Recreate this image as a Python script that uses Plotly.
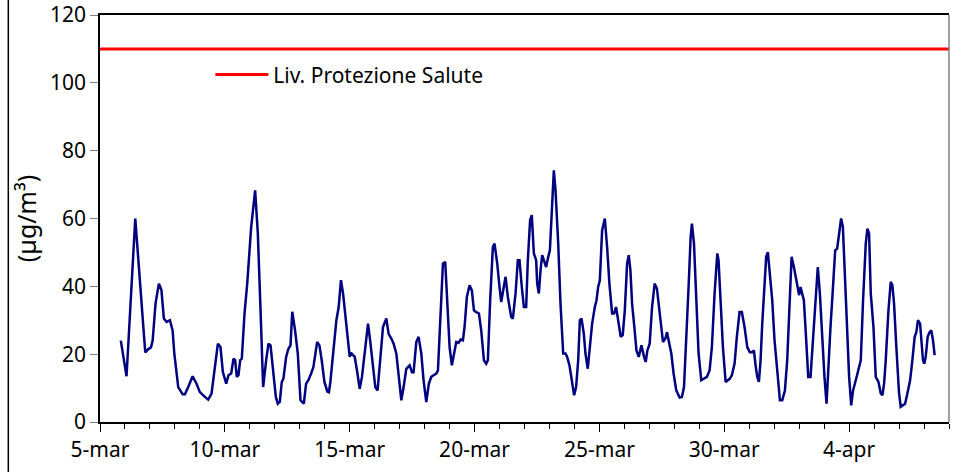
import pandas as pd
import plotly.graph_objects as go

# hours since 5-mar 00:00 and concentration (µg/m³)
HOURS = [
    20, 25.5, 33.9, 37.5, 40.5, 43.5, 46.5, 49, 50.6, 53.4, 56.6, 59, 61.4, 64, 67.2, 69.8,
    71.4, 75.2, 79.4, 81.6, 84.8, 89, 92.8, 96, 100.8, 104, 107.2, 110.4, 113.3, 115.8,
    118.1, 121.3, 123.5, 126.1, 128.3, 129.9, 131.5, 133.1, 134.7, 136.3, 138.9, 141.5,
    145.3, 149.1, 151.7, 154.3, 156.8, 159.7, 161.9, 163.9, 166.4, 169, 170.9, 172.8,
    174.7, 176.3, 178.9, 181.1, 183.1, 184.8, 187.5, 190.1, 192.7, 195.9, 198.1, 200.3,
    202.9, 205.1, 208.7, 210.9, 213.1, 215.7, 218.5, 220, 221.4, 224, 227.2, 229.4, 231.6,
    233.6, 235.8, 238, 240, 241.2, 244.8, 247, 249.6, 251.8, 255, 257.6, 259.8, 262.4,
    264.6, 266.8, 269.4, 272, 275.2, 277.4, 280, 282.2, 284.8, 287, 289.6, 291.8, 294.4,
    297.6, 299.8, 301.4, 304, 306.2, 308.8, 311, 313.6, 316.1, 318.4, 320.6, 323.2, 324.8,
    327, 329.6, 331.8, 334.4, 336, 338.2, 340.2, 342.4, 344.6, 346.6, 348.8, 350.4, 352.6,
    355.2, 357.4, 359.4, 361.6, 364.2, 366.4, 369, 371.2, 372.8, 375, 377.6, 379.2, 381.8,
    384, 385.6, 387.8, 389.8, 392, 395.2, 396.8, 399.4, 401.6, 403.2, 405.4, 407.4, 409.6,
    411.2, 413.4, 415, 417, 419.2, 420.2, 421.8, 423.4, 425, 426.6, 428.8, 430.8, 432.4,
    434, 436.2, 437.8, 440.4, 442.6, 445.2, 447.4, 449, 451.2, 453.8, 455.7, 457.6, 459.6,
    461.2, 462.8, 465, 466.6, 468.8, 470.8, 473, 475.6, 477.2, 478.8, 480.4, 482.6, 485.2,
    487.4, 489.6, 492.2, 494.1, 496, 498.6, 500.5, 502.4, 504.4, 506.6, 508.2, 509.8, 511.4,
    513.6, 515.6, 517.8, 520.4, 522.9, 524.5, 526.1, 528.3, 530.6, 533.1, 535.3, 537.3,
    539.5, 541.1, 543.4, 545, 546.5, 549.1, 551.3, 553.9, 557.1, 559.3, 561.3, 563.5, 565.7,
    567.7, 568.9, 570.9, 573.1, 575.3, 577.9, 580.5, 583.3, 585.9, 588.1, 590.7, 593.3,
    594.5, 596.5, 598.7, 601.3, 603.5, 605.4, 607.3, 609.9, 612.1, 614.7, 616.9, 619.5,
    622.1, 624.5, 626.9, 628.5, 630.1, 631.7, 633.3, 634.9, 636.5, 638.7, 640.3, 641.9,
    643.5, 646.1, 648.3, 650.9, 653.5, 655.7, 658.3, 660.5, 663.1, 664.7, 666.9, 668.8,
    670.7, 672, 673.3, 674.9, 676.5, 678.4, 680.7, 682.9, 685.1, 687.7, 689.9, 691.9, 694.1,
    696.3, 698.3, 699.9, 702.1, 704.3, 706.6, 708.5, 710.1, 712.3, 714, 715.9, 718.1, 720,
    722, 723.8, 726.4, 729, 731.2, 733.4, 736, 737.6, 739.2, 740.8, 743.4, 745.6, 748.2,
    750.4, 752, 753.6, 755.2, 757.8, 760, 761.6, 763.2, 765.4, 768, 769.6, 771.2, 773.8,
    776, 778.6, 780.8, 783, 784.6, 786.2, 788.2, 789.8, 791, 792.3, 793.6, 795.5, 797.4,
    799, 800.6, 802.2,
]
VALUES = [
    24, 13.5, 60, 45, 32, 20.5, 21.5, 22, 24, 35, 40.8, 39, 30.5, 29.5, 30, 27,
    20.2, 10.3, 8.2, 8.2, 10.3, 13.5, 11.3, 8.8, 7.4, 6.6, 8.4, 16.7, 23.1, 22.1,
    14.7, 11.3, 13.8, 14.3, 18.7, 18.2, 13.3, 13.8, 18.2, 18.7, 32, 40.8,
    57.5, 68.3, 55.6, 32.9, 10.3, 18.2, 23.1, 22.6, 14.3, 7.4, 5.4, 5.9,
    11.8, 12.8, 19.2, 21.6, 22.6, 32.5, 27, 20.2, 6.4, 5.4, 11.3, 12.3,
    14.3, 16.2, 23.6, 22.6, 18.2, 11.8, 9, 8.8, 11.8, 19.2, 30, 33.9, 41.8,
    37.9, 31, 24.1, 19.2, 20.4, 19.2, 15.2, 9.8, 13.3, 21.6, 29, 23.6, 16.2,
    10.3, 9.3, 18.2, 28, 30.5, 26, 24.6, 23.1, 20.2, 14.3, 6.4, 10.3, 15.7,
    16.7, 14.7, 14.7, 23.6, 25.1, 20.2, 12.3, 5.9, 11.3, 13.3, 13.8, 14.3, 15.2,
    28, 46.7, 47.2, 33.9, 22.1, 16.7, 20.2, 23.6, 23.3, 24.3, 24.1, 28, 36.9,
    40.3, 38.8, 32.9, 32.4, 32, 27, 18.2, 17.2, 18.2, 35.9, 51.6, 52.6, 46.7,
    39.8, 35.4, 39.3, 42.8, 36.9, 31, 30.5, 37.9, 47.7, 47.7, 39.8, 33.9, 33.9,
    47.7, 59.5, 61, 49.7, 47.7, 40.8, 37.9, 44.7, 49.2, 47.7, 45.7, 48.7, 50.6,
    60.5, 74.2, 68.3, 52.6, 34.9, 20.2, 20.2, 19.2, 16.7, 11.3, 7.9, 10.3, 18.2,
    30, 30.5, 26, 20.2, 15.7, 21.1, 29, 33.9, 35.9, 39.8, 41.8, 56.5, 60,
    51.6, 40.8, 32, 32, 33.9, 28, 25.1, 25.6, 32.9, 46.7, 49.2, 44.7, 34.9,
    28, 21.1, 19.2, 22.6, 19.2, 17.7, 21.1, 23.1, 33.9, 40.8, 39.3, 33.9,
    27, 23.6, 24.6, 26.5, 24.1, 20.2, 14.3, 9.3, 7.2, 7.4, 10.3, 23.1, 39.8,
    54.6, 58.5, 52.6, 35.9, 20.2, 12.3, 12.8, 13.3, 15.2, 22.1, 37.9, 49.7,
    47.7, 35.9, 22.1, 11.8, 12.3, 12.8, 13.8, 17.2, 25.1, 32.4, 32.4, 28,
    22.1, 20.6, 20.6, 21.1, 16.7, 13.3, 11.8, 18.2, 29, 39.8, 48.7, 50.1,
    43.8, 35.9, 24.1, 14.3, 6.4, 6.4, 9.3, 18.2, 35.9, 48.7, 45.7, 42.8,
    39.8, 37.4, 39.8, 37.4, 35.9, 26, 13.3, 13.3, 23.1, 35.9, 45.7, 37.9, 25.1,
    13.3, 5.4, 16.2, 28, 38.8, 50.6, 51.1, 54.6, 60, 57.5, 42.8, 26, 13.3,
    4.9, 9.3, 12.3, 15.7, 18.2, 35.9, 52.6, 57, 55.6, 37.9, 28, 13.3, 11.8,
    8.4, 7.9, 11.3, 18.2, 32.9, 41.3, 40.3, 34.9, 22.1, 8.4, 4.5, 4.9, 5.4,
    8.4, 12.3, 18.2, 25.1, 26.5, 30, 29, 24.1, 18.2, 17.2, 19.2, 25.1, 26.5,
    27, 24.1, 19.7,
]
START = "2009-03-05"
END = "2009-04-08"
LIMIT = 110
TICK_DATES = ["2009-03-05", "2009-03-10", "2009-03-15", "2009-03-20",
              "2009-03-25", "2009-03-30", "2009-04-04"]
TICK_LABELS = ["5-mar", "10-mar", "15-mar", "20-mar", "25-mar", "30-mar", "4-apr"]

FONT = dict(family="Noto Sans, Tahoma, sans-serif", size=21, color="#000000")
DAY_MS = 86400000

times = pd.Timestamp(START) + pd.to_timedelta(HOURS, unit="h")

fig = go.Figure()
fig.add_trace(go.Scatter(
    x=times, y=VALUES,
    mode="lines",
    line=dict(color="#000080", width=2.5),
    showlegend=False,
))
fig.add_trace(go.Scatter(
    x=[START, END], y=[LIMIT, LIMIT],
    mode="lines",
    line=dict(color="#FF0000", width=3),
    name="Liv. Protezione Salute",
))

fig.update_layout(
    width=961, height=472,
    paper_bgcolor="white",
    plot_bgcolor="white",
    font=FONT,
    margin=dict(l=100, r=12, t=15, b=50),
    showlegend=True,
    legend=dict(x=0.13, y=0.853, xanchor="left", yanchor="middle",
                bgcolor="rgba(0,0,0,0)", font=FONT, itemwidth=53),
    xaxis=dict(
        type="date", range=[START, END], automargin=False,
        tickvals=TICK_DATES, ticktext=TICK_LABELS,
        ticks="outside", ticklen=8, tickcolor="#000000",
        showline=True, linecolor="#000000", linewidth=1.5, mirror=True,
        showgrid=False, zeroline=False,
        minor=dict(dtick=DAY_MS, tick0=START, ticks="outside", ticklen=5,
                   tickcolor="#000000", showgrid=False),
    ),
    yaxis=dict(
        range=[0, 120], dtick=20, automargin=False,
        ticks="outside", ticklen=8, tickcolor="#808080",
        showline=True, linecolor="#000000", linewidth=1.5,
        showgrid=False, zeroline=False,
        title=dict(text="(µg/m³)", standoff=6),
    ),
    shapes=[
        dict(type="line", xref="paper", yref="paper", x0=1, x1=1, y0=0, y1=1,
             line=dict(color="#808080", width=1.5)),
        dict(type="line", xref="paper", yref="paper", x0=-0.108, x1=-0.108,
             y0=-0.2, y1=1.1, line=dict(color="#000000", width=1.5)),
    ],
)

# the page body has a default 8px margin; drop it so the chart sits at the window origin
fig.write_html("out.html", config={"displayModeBar": False},
               post_script="document.body.style.margin='0';")
